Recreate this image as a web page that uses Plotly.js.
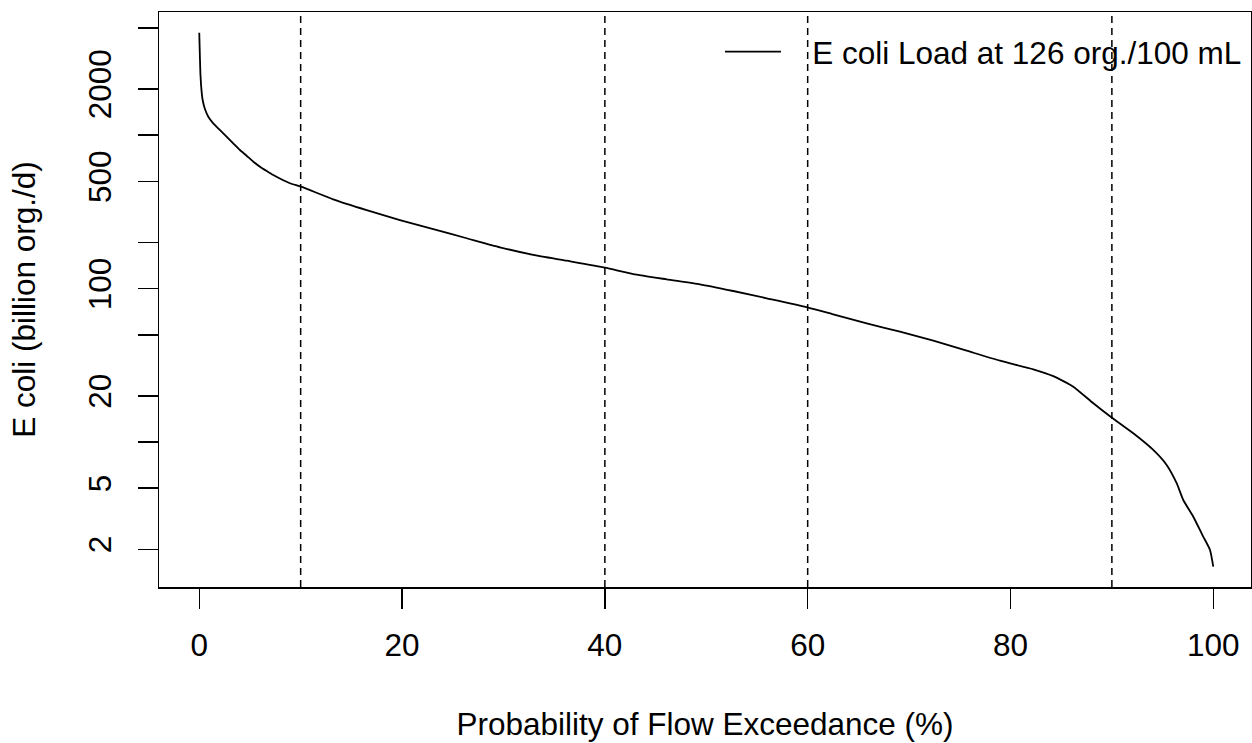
<!DOCTYPE html>
<html>
<head>
<meta charset="utf-8">
<script src="https://cdn.plot.ly/plotly-3.0.1.min.js"></script>
<style>html,body{margin:0;padding:0;background:#fff;}#chart{width:1252px;height:743px;}</style>
</head>
<body>
<div id="chart"></div>
<script>
// Flow exceedance probability (%) and E. coli load (billion org./d)
const exceedance = [0, 0.06, 0.12, 0.24, 0.335, 0.56, 0.89, 1.38, 1.87, 2.37, 3.35, 4.01, 4.67, 5.33, 5.99, 6.65, 7.30, 8.94, 10.03, 13.21, 16.51, 19.79, 23.08, 26.37, 29.65, 32.94, 36.23, 40.01, 42.8, 46.09, 49.38, 52.66, 55.96, 59.96, 62.52, 65.82, 69.10, 72.39, 75.68, 78.96, 82.25, 84.22, 86.19, 88.17, 89.88, 92.11, 94.08, 95.40, 96.39, 97.04, 98.03, 99.01, 99.68, 100];
const ecoliLoad = [4650, 3300, 2467, 1900, 1696, 1480, 1320, 1195, 1109, 1029, 885, 801, 735, 672, 623, 584, 550, 486, 462, 382, 325, 280, 244, 213, 186, 166, 152, 137, 124.5, 115, 106.7, 96.5, 86.5, 75.6, 68, 59.4, 52.4, 45.8, 39.4, 33.9, 29.8, 26.9, 22.96, 17.9, 14.6, 11.4, 8.88, 7.09, 5.39, 4.19, 3.26, 2.42, 1.98, 1.54];

const seriesName = "E coli Load at 126 org./100 mL";
const flowZones = [10, 40, 60, 90];
const xTickVals = [0, 20, 40, 60, 80, 100];
const yTickVals = [2, 5, 10, 20, 50, 100, 200, 500, 1000, 2000, 5000];
const yTickText = ["2", "5", "", "20", "", "100", "", "500", "", "2000", ""];

const FONT = "Arial, 'Liberation Sans', sans-serif";
const FS = 31.5;

const trace = {
  x: exceedance,
  y: ecoliLoad,
  type: "scatter",
  mode: "lines",
  name: "\u00A0\u00A0\u00A0" + seriesName,
  line: {color: "#000", width: 1.8, shape: "spline", smoothing: 0.5},
  hoverinfo: "x+y"
};

const shapes = flowZones.map(v => ({
  type: "line", xref: "x", yref: "y domain",
  x0: v, x1: v, y0: 0, y1: 1,
  line: {color: "#000", width: 1.5, dash: "7px,5px"}
}));

const layout = {
  width: 1252, height: 743,
  paper_bgcolor: "#fff", plot_bgcolor: "#fff",
  margin: {l: 159, r: 1, t: 12, b: 156},
  font: {family: FONT, size: FS, color: "#000"},
  showlegend: true,
  legend: {
    x: 0.9963, xanchor: "right", y: 0.978, yanchor: "top",
    bgcolor: "rgba(0,0,0,0)", borderwidth: 0,
    font: {family: FONT, size: FS, color: "#000"},
    itemwidth: 56
  },
  xaxis: {
    range: [-3.97, 103.72],
    tickvals: xTickVals,
    ticks: "outside", ticklen: 20, tickwidth: 1.5, tickcolor: "#000",
    showline: true, mirror: true, linecolor: "#000", linewidth: 1.5,
    showgrid: false, zeroline: false, automargin: false,
    ticklabelstandoff: 10,
    tickfont: {family: FONT, size: FS, color: "#000"},
    title: {text: "Probability of Flow Exceedance (%)", font: {family: FONT, size: FS, color: "#000"}, standoff: 50}
  },
  yaxis: {
    type: "log",
    range: [0.0553, 3.803],
    tickvals: yTickVals, ticktext: yTickText,
    tickangle: -90,
    ticks: "outside", ticklen: 20, tickwidth: 1.5, tickcolor: "#000",
    showline: true, mirror: true, linecolor: "#000", linewidth: 1.5,
    showgrid: false, zeroline: false, automargin: false,
    ticklabelstandoff: 14,
    tickfont: {family: FONT, size: FS, color: "#000"},
    title: {text: "E coli (billion org./d)", font: {family: FONT, size: FS, color: "#000"}, standoff: 37}
  },
  shapes: shapes
};

Plotly.newPlot("chart", [trace], layout, {displayModeBar: false, staticPlot: true});
</script>
</body>
</html>
